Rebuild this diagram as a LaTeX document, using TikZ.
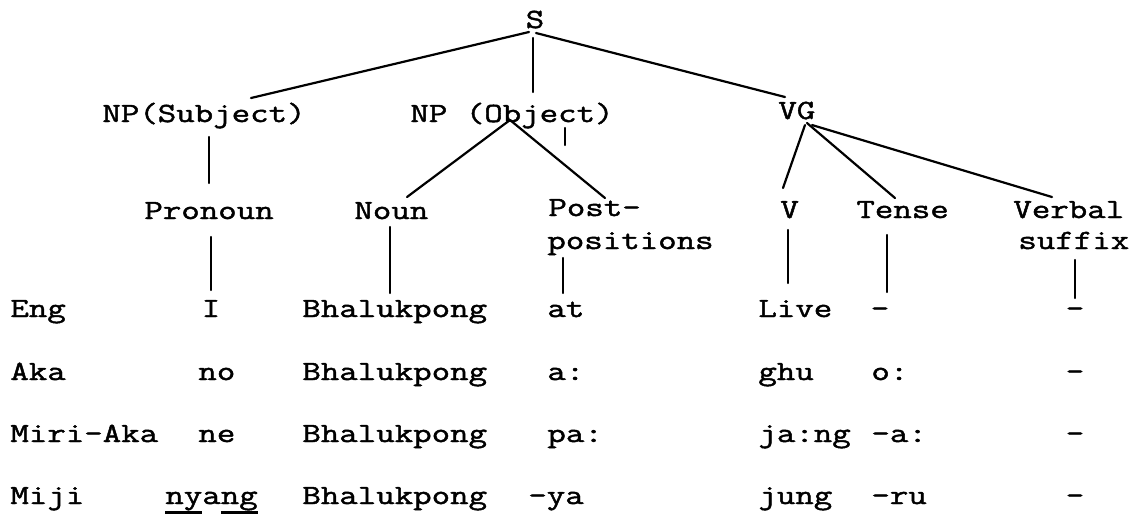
\documentclass[tikz,border=0pt]{standalone}
\usepackage{fontspec}
\newfontfamily\typewriter[FakeStretch=1.29, FakeBold=1.6]{Latin Modern Mono}
% typed underline: a heavier rule just below the descenders
\newcommand\typedul[1]{\vtop{\hbox{#1}\kern0.4pt\hrule height 1.2pt}}
\begin{document}
\begin{tikzpicture}[x=0.5pt,y=-0.5pt,
  lbl/.style={inner sep=0pt, anchor=base west, font=\typewriter\fontsize{13.9}{16}\selectfont},
  mid/.style={lbl, anchor=base},
  branch/.style={line width=1.1pt, line cap=round}]
\useasboundingbox (0,0) rectangle (1131,516);

% --- tree labels ---
\node[mid] (s) at (535,28) {S};
\node[lbl] (npsubj) at (102,122) {NP(Subject)};
\node[lbl] (npobj) at (410,122) {NP (Object)};
\node[lbl] (vg) at (778,119) {VG};
\node[lbl] (pron) at (144,219) {Pronoun};
\node[lbl] (noun) at (354,219) {Noun};
\node[lbl] (post) at (548,216) {Post-};
\node[lbl] (posit) at (547,249) {positions};
\node[lbl] (v) at (780,218) {V};
\node[lbl] (tense) at (856,218) {Tense};
\node[lbl] (verbal) at (1013,218) {Verbal};
\node[lbl] (suffix) at (1018,249) {suffix};

% --- branch end points ---
\coordinate (sL) at (529,32);   \coordinate (subjT) at (251,98);
\coordinate (sB) at (533,38);   \coordinate (objT) at (533,92);
\coordinate (sR) at (536,33);   \coordinate (vgT) at (785,97);
\coordinate (subjB) at (209,137); \coordinate (pronT) at (209,183);
\coordinate (pronB) at (211,237); \coordinate (engI) at (211,290);
\coordinate (objB) at (510,120); \coordinate (nounT) at (407,197);
\coordinate (postT) at (605,198);
\coordinate (tickT) at (565,128); \coordinate (tickB) at (565,145);
\coordinate (nounB) at (390,227); \coordinate (engN) at (390,293);
\coordinate (positB) at (563,258); \coordinate (engP) at (563,293);
\coordinate (vgV) at (805,125);  \coordinate (vT) at (783,188);
\coordinate (vgT2) at (807,123); \coordinate (tenseT) at (895,198);
\coordinate (vgS) at (812,125);  \coordinate (verbalT) at (1052,197);
\coordinate (vB) at (788,230);   \coordinate (engV) at (788,283);
\coordinate (tenseB) at (887,235); \coordinate (engT) at (887,292);
\coordinate (suffixB) at (1075,260); \coordinate (engS) at (1075,298);

% --- branches ---
\draw[branch] (sL) -- (subjT);
\draw[branch] (sB) -- (objT);
\draw[branch] (sR) -- (vgT);
\draw[branch] (subjB) -- (pronT);
\draw[branch] (pronB) -- (engI);
\draw[branch] (objB) -- (nounT);
\draw[branch] (objB) -- (postT);
\draw[branch] (tickT) -- (tickB);
\draw[branch] (nounB) -- (engN);
\draw[branch] (positB) -- (engP);
\draw[branch] (vgV) -- (vT);
\draw[branch] (vgT2) -- (tenseT);
\draw[branch] (vgS) -- (verbalT);
\draw[branch] (vB) -- (engV);
\draw[branch] (tenseB) -- (engT);
\draw[branch] (suffixB) -- (engS);

% --- language rows ---
\node[lbl] (eng) at (10,317) {Eng};
\node[mid] (engi) at (211,317) {I};
\node[lbl] (engnoun) at (302,317) {Bhalukpong};
\node[lbl] (engpost) at (547,317) {at};
\node[lbl] (engverb) at (758,317) {Live};
\node[mid] (engtense) at (880,317) {-};
\node[mid] (engsuf) at (1075,317) {-};

\node[lbl] (aka) at (10,380) {Aka};
\node[lbl] (akapron) at (198,380) {no};
\node[lbl] (akanoun) at (302,380) {Bhalukpong};
\node[lbl] (akapost) at (547,380) {a:};
\node[lbl] (akaverb) at (758,380) {ghu};
\node[lbl] (akatense) at (871,380) {o:};
\node[mid] (akasuf) at (1075,380) {-};

\node[lbl] (miri) at (10,442) {Miri-Aka};
\node[lbl] (miripron) at (198,442) {ne};
\node[lbl] (mirinoun) at (302,442) {Bhalukpong};
\node[lbl] (miripost) at (547,442) {pa:};
\node[lbl] (miriverb) at (758,442) {ja:ng};
\node[lbl] (miritense) at (871,442) {-a:};
\node[mid] (mirisuf) at (1075,442) {-};

\node[lbl] (miji) at (10,504) {Miji};
\node[lbl] (mijipron) at (165,504) {\typedul{ny}a\typedul{ng}};
\node[lbl] (mijinoun) at (302,504) {Bhalukpong};
\node[lbl] (mijipost) at (528,504) {-ya};
\node[lbl] (mijiverb) at (758,504) {jung};
\node[lbl] (mijitense) at (871,504) {-ru};
\node[mid] (mijisuf) at (1075,504) {-};
\end{tikzpicture}
\end{document}
